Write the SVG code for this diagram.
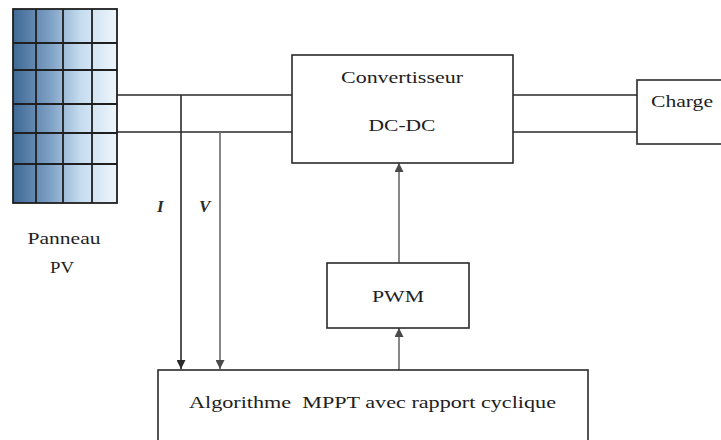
<svg xmlns="http://www.w3.org/2000/svg" width="721" height="440" viewBox="0 0 721 440">
  <style>
    .box { fill: #ffffff; stroke: #2a2a2a; stroke-width: 1.6; }
    .wire { fill: none; stroke: #2a2a2a; stroke-width: 1.6; }
    .wire-light { fill: none; stroke: #6a6a6a; stroke-width: 1.6; }
    .lbl { font-family: 'Liberation Serif', 'DejaVu Serif', serif; font-size: 17px; fill: #1e1e1e; }
    .sig { font-family: 'Liberation Serif', 'DejaVu Serif', serif; font-size: 17px; font-style: italic; font-weight: bold; fill: #2a2a2a; }
    .grid { fill: none; stroke: #1f1f1f; stroke-width: 1.8; }
  </style>
  <defs>
    <linearGradient id="pvShade" x1="0" y1="0" x2="1" y2="0">
      <stop offset="0" stop-color="#3e6894"/>
      <stop offset="0.35" stop-color="#7d9fc4"/>
      <stop offset="0.65" stop-color="#c5dcef"/>
      <stop offset="1" stop-color="#eef6fc"/>
    </linearGradient>
    <marker id="arrowDark" viewBox="0 0 10 10" refX="10" refY="5" markerWidth="9" markerHeight="9" orient="auto" markerUnits="userSpaceOnUse">
      <path d="M0,0 L10,5 L0,10 z" fill="#2a2a2a"/>
    </marker>
    <marker id="arrowLight" viewBox="0 0 10 10" refX="10" refY="5" markerWidth="9" markerHeight="9" orient="auto" markerUnits="userSpaceOnUse">
      <path d="M0,0 L10,5 L0,10 z" fill="#4a4a4a"/>
    </marker>
  </defs>
  <rect width="721" height="440" fill="#ffffff"/>

  <!-- connectors -->
  <g id="connectors">
    <!-- panel to converter -->
    <line class="wire" x1="117" y1="95" x2="292" y2="95"/>
    <line class="wire" x1="117" y1="132" x2="292" y2="132"/>
    <!-- converter to load -->
    <line class="wire" x1="513" y1="95" x2="637" y2="95"/>
    <line class="wire" x1="513" y1="132" x2="637" y2="132"/>
    <!-- current and voltage measurements -->
    <line class="wire" x1="181" y1="95" x2="181" y2="369" marker-end="url(#arrowDark)"/>
    <line class="wire-light" x1="220" y1="132" x2="220" y2="369" marker-end="url(#arrowLight)"/>
    <!-- control chain -->
    <line class="wire-light" x1="399" y1="370" x2="399" y2="328" marker-end="url(#arrowLight)"/>
    <line class="wire-light" x1="399" y1="263" x2="399" y2="163" marker-end="url(#arrowLight)"/>
    <text class="sig" x="157" y="212">I</text>
    <text class="sig" x="199" y="212">V</text>
  </g>

  <!-- PV panel -->
  <g id="panneau-pv">
    <rect x="13" y="9" width="104" height="194" fill="url(#pvShade)"/>
    <rect class="grid" x="13" y="9" width="104" height="194"/>
    <path class="grid" d="M36,9 V203 M63,9 V203 M92,9 V203 M13,43 H117 M13,70 H117 M13,104 H117 M13,133 H117 M13,164 H117"/>
    <text class="lbl" x="64" y="244" text-anchor="middle" textLength="73" lengthAdjust="spacingAndGlyphs">Panneau</text>
    <text class="lbl" x="62" y="273" text-anchor="middle" textLength="24" lengthAdjust="spacingAndGlyphs">PV</text>
  </g>

  <!-- DC-DC converter -->
  <g id="convertisseur">
    <rect class="box" x="292" y="55" width="221" height="108"/>
    <text class="lbl" x="402" y="83" text-anchor="middle" textLength="122" lengthAdjust="spacingAndGlyphs">Convertisseur</text>
    <text class="lbl" x="402" y="131" text-anchor="middle" textLength="67" lengthAdjust="spacingAndGlyphs">DC-DC</text>
  </g>

  <!-- load -->
  <g id="charge">
    <rect class="box" x="637" y="80" width="100" height="64"/>
    <text class="lbl" x="651" y="107" textLength="62" lengthAdjust="spacingAndGlyphs">Charge</text>
  </g>

  <!-- PWM -->
  <g id="pwm">
    <rect class="box" x="327" y="263" width="142" height="65"/>
    <text class="lbl" x="398" y="302" text-anchor="middle" textLength="52" lengthAdjust="spacingAndGlyphs">PWM</text>
  </g>

  <!-- MPPT algorithm -->
  <g id="algorithme-mppt">
    <rect class="box" x="158" y="370" width="430" height="90"/>
    <text class="lbl" x="189" y="408" textLength="367" lengthAdjust="spacingAndGlyphs" xml:space="preserve">Algorithme  MPPT avec rapport cyclique</text>
  </g>
</svg>
